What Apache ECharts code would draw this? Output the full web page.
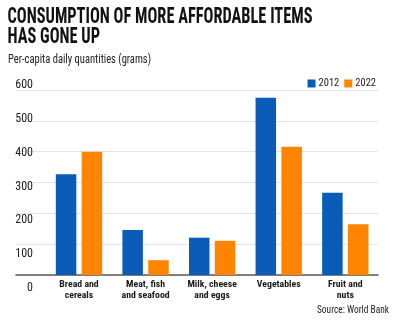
<!DOCTYPE html>
<html>
<head>
<meta charset="utf-8">
<script src="https://cdn.jsdelivr.net/npm/echarts@6/dist/echarts.min.js"></script>
<style>html,body{margin:0;padding:0;background:#fff}#c{width:400px;height:323px}</style>
</head>
<body>
<div id="c"></div>
<script>
const categories = ['Bread and\ncereals', 'Meat, fish\nand seafood', 'Milk, cheese\nand eggs', 'Vegetables', 'Fruit and\nnuts'];
const seriesNames = ['2012', '2022'];
const values2012 = [327, 146, 121, 575, 267];
const values2022 = [400, 48, 111, 416, 165];
const yMin = 0, yMax = 600, yStep = 100;
const titleLines = ['CONSUMPTION OF MORE AFFORDABLE ITEMS', 'HAS GONE UP'];
const subtitle = 'Per-capita daily quantities (grams)';
const source = 'Source: World Bank';

const COND = '"Roboto Condensed", "Open Sans Condensed", sans-serif';
const ctx = document.createElement('canvas').getContext('2d');
function fitScale(text, font, target) {
  ctx.font = font;
  return target / ctx.measureText(text).width;
}
const titleFont = 'bold 22px ' + COND;
const tScale = fitScale(titleLines[0], titleFont, 305);
const subFont = '12.5px ' + COND;
const sScale = fitScale(subtitle, subFont, 143);
const srcFont = '11px ' + COND;
const srcScale = fitScale(source, srcFont, 72);

const chart = echarts.init(document.getElementById('c'), null, {renderer: 'canvas'});
chart.setOption({
  animation: false,
  color: ['#0a5cb8', '#ff8500'],
  graphic: [
    {type: 'text', x: 7.5, y: 17.3, scaleX: tScale, style: {text: titleLines[0], font: titleFont, fill: '#111', verticalAlign: 'middle'}},
    {type: 'text', x: 7.5, y: 37.6, scaleX: tScale, style: {text: titleLines[1], font: titleFont, fill: '#111', verticalAlign: 'middle'}},
    {type: 'text', x: 8, y: 60, scaleX: sScale, style: {text: subtitle, font: subFont, fill: '#222', verticalAlign: 'middle'}},
    {type: 'text', x: 389, y: 310, scaleX: srcScale, style: {text: source, font: srcFont, fill: '#222', verticalAlign: 'middle', align: 'right'}}
  ],
  legend: {
    data: seriesNames,
    right: 19, top: 73,
    icon: 'rect', itemWidth: 8, itemHeight: 8, itemGap: 5,
    textStyle: {fontFamily: COND, fontSize: 10.5, color: '#222', padding: [0, 0, 0, -2]}
  },
  grid: [
    {left: 45.7, right: 21.4, top: 90, height: 185},
    {left: 16, right: 22, top: 90, height: 185},
    {left: 36, right: 22, top: 85, height: 203}
  ],
  xAxis: [
    {type: 'category', gridIndex: 0, data: categories,
     axisLine: {show: false}, axisTick: {show: false},
     axisLabel: {interval: 0, margin: 4, fontFamily: COND, fontWeight: 'bold', fontSize: 9.8, lineHeight: 11, color: '#1a1a1a'}},
    {type: 'value', gridIndex: 1, min: 0, max: 1,
     axisLine: {show: true, lineStyle: {color: '#5a5a5a', width: 1.5}},
     axisTick: {show: false}, axisLabel: {show: false}, splitLine: {show: false}},
    {type: 'value', gridIndex: 2, show: false, min: 0, max: 1}
  ],
  yAxis: [
    {type: 'value', gridIndex: 0, min: yMin, max: yMax, interval: yStep, show: false},
    {type: 'value', gridIndex: 1, min: yMin, max: yMax, interval: yStep,
     axisLine: {show: false}, axisTick: {show: false}, axisLabel: {show: false},
     splitLine: {lineStyle: {color: '#e4e4e4', width: 1}}},
    {type: 'value', gridIndex: 2, min: yMin, max: yMax, interval: yStep,
     axisLine: {show: false}, axisTick: {show: false}, splitLine: {show: false},
     axisLabel: {margin: 3, fontFamily: COND, fontSize: 12, color: '#222'}}
  ],
  series: [
    {name: seriesNames[0], type: 'bar', xAxisIndex: 0, yAxisIndex: 0, data: values2012, barWidth: 20.5, barGap: '26%'},
    {name: seriesNames[1], type: 'bar', xAxisIndex: 0, yAxisIndex: 0, data: values2022, barWidth: 20.5, barGap: '26%'}
  ]
});
</script>
</body>
</html>
